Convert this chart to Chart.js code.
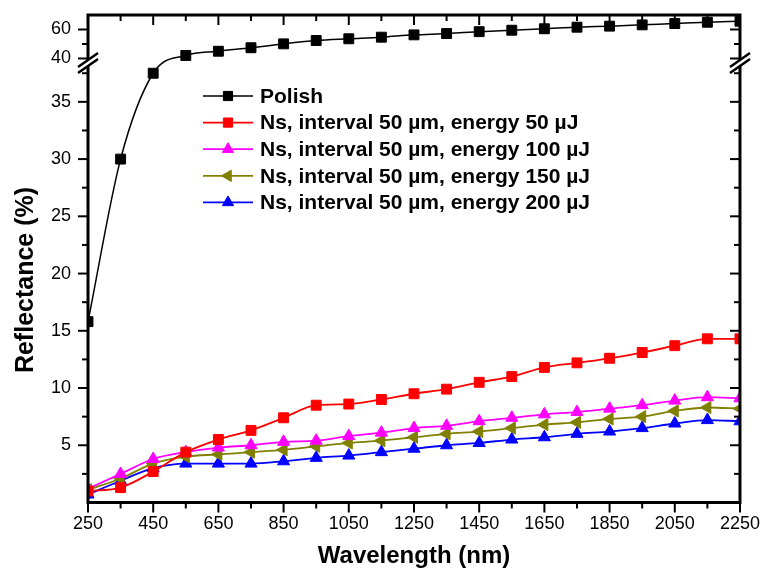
<!DOCTYPE html>
<html>
<head>
<meta charset="utf-8">
<script src="https://cdn.jsdelivr.net/npm/chart.js@4.4.1/dist/chart.umd.min.js"></script>
<style>
    html, body { margin: 0; padding: 0; background: #ffffff; }
    #wrap { width: 763px; height: 579px; }
</style>
</head>
<body>
<div id="wrap"><canvas id="chart" width="763" height="579"></canvas></div>
<script>
// Reflectance spectra
const wavelengths = [250, 350, 450, 550, 650, 750, 850, 950, 1050, 1150, 1250, 1350, 1450, 1550, 1650, 1750, 1850, 1950, 2050, 2150, 2250];
const polish = [15.8, 30.0, 37.5, 42.1, 45.0, 47.4, 50.1, 52.4, 53.6, 54.7, 56.3, 57.2, 58.5, 59.5, 60.5, 61.6, 62.3, 63.2, 64.1, 65.0, 65.7];
const ns50 = [1.0, 1.3, 2.7, 4.4, 5.5, 6.3, 7.4, 8.5, 8.6, 9.0, 9.5, 9.9, 10.5, 11.0, 11.8, 12.2, 12.6, 13.1, 13.7, 14.3, 14.3];
const ns100 = [1.2, 2.5, 3.8, 4.4, 4.8, 5.0, 5.3, 5.4, 5.8, 6.1, 6.5, 6.7, 7.1, 7.4, 7.7, 7.9, 8.2, 8.5, 8.9, 9.2, 9.1];
const ns150 = [1.1, 2.1, 3.4, 4.0, 4.2, 4.4, 4.6, 4.9, 5.2, 5.4, 5.7, 6.0, 6.2, 6.5, 6.8, 7.0, 7.3, 7.5, 8.0, 8.3, 8.2];
const ns200 = [0.7, 1.9, 3.0, 3.4, 3.4, 3.4, 3.6, 3.9, 4.1, 4.4, 4.7, 5.0, 5.2, 5.5, 5.7, 6.0, 6.2, 6.5, 6.9, 7.2, 7.1];

const seriesLabels = [
    'Polish',
    'Ns, interval 50 µm, energy 50 µJ',
    'Ns, interval 50 µm, energy 100 µJ',
    'Ns, interval 50 µm, energy 150 µJ',
    'Ns, interval 50 µm, energy 200 µJ',
];

// axis ticks
const xTickValues = [250, 450, 650, 850, 1050, 1250, 1450, 1650, 1850, 2050, 2250];
const xMinorTicks = [350, 550, 750, 950, 1150, 1350, 1550, 1750, 1950, 2150];
const yTickValues = [5, 10, 15, 20, 25, 30, 35, 40, 60];
const yMinorTicks = [2.5, 7.5, 12.5, 17.5, 22.5, 27.5, 32.5, 37.5, 50];
const yBreak = [38, 40];

const FONT = "'Liberation Sans', Arial, Helvetica, sans-serif";

/**
 * Linear scale with one gap: [min, from] takes the lower part of the axis,
 * [to, max] the upper part, the stretch between them is squeezed.
 */
const LinearScale = Chart.LinearScale || Chart.registry.getScale('linear');
class BrokenLinearScale extends LinearScale {
    _segments() {
        const o = this.options.broken;
        const h = this.bottom - this.top;
        return {
            from: o.from,
            to: o.to,
            lowTop: this.bottom - h * o.lowerFraction,
            highBottom: this.top + h * o.upperFraction,
        };
    }

    getPixelForValue(value) {
        const s = this._segments();
        if (value <= s.from) {
            return this.bottom - (value - this.min) / (s.from - this.min) * (this.bottom - s.lowTop);
        }
        if (value >= s.to) {
            return s.highBottom - (value - s.to) / (this.max - s.to) * (s.highBottom - this.top);
        }
        return s.lowTop - (value - s.from) / (s.to - s.from) * (s.lowTop - s.highBottom);
    }

    getValueForPixel(pixel) {
        const s = this._segments();
        if (pixel >= s.lowTop) {
            return this.min + (this.bottom - pixel) / (this.bottom - s.lowTop) * (s.from - this.min);
        }
        if (pixel <= s.highBottom) {
            return s.to + (s.highBottom - pixel) / (s.highBottom - this.top) * (this.max - s.to);
        }
        return s.from + (s.lowTop - pixel) / (s.lowTop - s.highBottom) * (s.to - s.from);
    }
}
BrokenLinearScale.id = 'brokenLinear';
BrokenLinearScale.defaults = LinearScale.defaults;
Chart.register(BrokenLinearScale);

function series(label, values, color, pointStyle, rotation) {
    return {
        label,
        data: wavelengths.map((x, i) => ({ x, y: values[i] })),
        borderColor: color,
        backgroundColor: color,
        pointBackgroundColor: color,
        pointBorderColor: color,
        pointStyle,
        pointRotation: rotation || 0,
        pointRadius: 7,
        pointBorderWidth: 1,
        borderWidth: color === '#000000' ? 1.5 : 1.8,
        cubicInterpolationMode: 'monotone',
    };
}

/**
 * Origin-style frame: box axes, inward ticks on top/right, outward on
 * bottom/left, minor ticks, axis-break marks, titles and the legend.
 */
const originFrame = {
    id: 'originFrame',
    afterDraw(chart) {
        const { ctx, chartArea: a, scales: { x, y } } = chart;
        ctx.save();
        ctx.strokeStyle = '#000';
        ctx.lineCap = 'butt';

        // ticks
        ctx.lineWidth = 2;
        const tick = (x1, y1, x2, y2) => {
            ctx.beginPath();
            ctx.moveTo(x1, y1);
            ctx.lineTo(x2, y2);
            ctx.stroke();
        };
        xTickValues.forEach((v) => {
            const px = x.getPixelForValue(v);
            tick(px, a.bottom, px, a.bottom + 10);
            tick(px, a.top, px, a.top + 10);
        });
        xMinorTicks.forEach((v) => {
            const px = x.getPixelForValue(v);
            tick(px, a.bottom, px, a.bottom + 6);
            tick(px, a.top, px, a.top + 6);
        });
        yTickValues.forEach((v) => {
            const py = y.getPixelForValue(v);
            tick(a.left - 10, py, a.left, py);
            tick(a.right - 10, py, a.right, py);
        });
        yMinorTicks.forEach((v) => {
            const py = y.getPixelForValue(v);
            tick(a.left - 6, py, a.left, py);
            tick(a.right - 6, py, a.right, py);
        });

        // frame
        ctx.lineWidth = 3;
        ctx.strokeRect(a.left, a.top, a.right - a.left, a.bottom - a.top);

        // axis break marks
        const cy = (y.getPixelForValue(yBreak[0]) + y.getPixelForValue(yBreak[1])) / 2;
        [a.left, a.right].forEach((ax) => {
            const w = 10, rise = 7, gap = 3;
            ctx.fillStyle = '#fff';
            ctx.beginPath();
            ctx.moveTo(ax - w, cy + rise + gap);
            ctx.lineTo(ax + w, cy - rise + gap);
            ctx.lineTo(ax + w, cy - rise - gap);
            ctx.lineTo(ax - w, cy + rise - gap);
            ctx.closePath();
            ctx.fill();
            ctx.lineWidth = 2.5;
            tick(ax - w, cy + rise + gap, ax + w, cy - rise + gap);
            tick(ax - w, cy + rise - gap, ax + w, cy - rise - gap);
        });

        // axis titles
        ctx.fillStyle = '#000';
        ctx.textAlign = 'center';
        ctx.textBaseline = 'middle';
        ctx.font = `bold 24px ${FONT}`;
        ctx.fillText('Wavelength (nm)', (a.left + a.right) / 2, 556);
        ctx.save();
        ctx.translate(26, 280);
        ctx.rotate(-Math.PI / 2);
        ctx.font = `bold 25px ${FONT}`;
        ctx.fillText('Reflectance (%)', 0, 0);
        ctx.restore();

        // legend
        ctx.font = `bold 21px ${FONT}`;
        ctx.textAlign = 'left';
        chart.data.datasets.forEach((ds, i) => {
            const ly = 96 + i * 26.6;
            ctx.strokeStyle = ds.borderColor;
            ctx.lineWidth = ds.borderWidth;
            tick(203, ly, 253, ly);
            ctx.fillStyle = ds.pointBackgroundColor;
            ctx.strokeStyle = ds.pointBorderColor;
            ctx.lineWidth = 1;
            Chart.helpers.drawPoint(ctx, {
                pointStyle: ds.pointStyle,
                rotation: ds.pointRotation,
                radius: 6.5,
                borderWidth: 1,
            }, 228, ly);
            ctx.fillStyle = '#000';
            ctx.fillText(ds.label, 260, ly + 1);
        });

        ctx.restore();
    },
};

new Chart(document.getElementById('chart'), {
    type: 'line',
    data: {
        datasets: [
            series(seriesLabels[0], polish, '#000000', 'rect'),
            series(seriesLabels[1], ns50, '#ff0000', 'rect'),
            series(seriesLabels[2], ns100, '#ff00ff', 'triangle'),
            series(seriesLabels[3], ns150, '#808000', 'triangle', -90),
            series(seriesLabels[4], ns200, '#0000ff', 'triangle'),
        ],
    },
    options: {
        responsive: false,
        animation: false,
        devicePixelRatio: 1,
        layout: { padding: { top: 15, right: 16, left: 0, bottom: 0 } },
        plugins: {
            legend: { display: false },
            tooltip: { enabled: false },
        },
        scales: {
            x: {
                type: 'linear',
                min: 250,
                max: 2250,
                afterBuildTicks: (s) => { s.ticks = xTickValues.map((v) => ({ value: v })); },
                afterFit: (s) => { s.height = 76.5; },
                grid: { display: false },
                border: { display: false },
                ticks: {
                    autoSkip: false,
                    maxRotation: 0,
                    padding: 3,
                    color: '#000',
                    font: { family: FONT, size: 18 },
                    callback: (v) => String(v),
                },
            },
            y: {
                type: 'brokenLinear',
                min: 0,
                max: 70,
                broken: { from: yBreak[0], to: yBreak[1], lowerFraction: 0.8923, upperFraction: 0.0892 },
                afterBuildTicks: (s) => { s.ticks = yTickValues.map((v) => ({ value: v })); },
                afterFit: (s) => {
                    s.width = 88;
                    s.paddingTop = 0;
                    s.paddingBottom = 0;
                },
                grid: { display: false },
                border: { display: false },
                ticks: {
                    autoSkip: false,
                    padding: 9,
                    color: '#000',
                    font: { family: FONT, size: 18 },
                    callback: (v) => String(v),
                },
            },
        },
    },
    plugins: [originFrame],
});
</script>
</body>
</html>
